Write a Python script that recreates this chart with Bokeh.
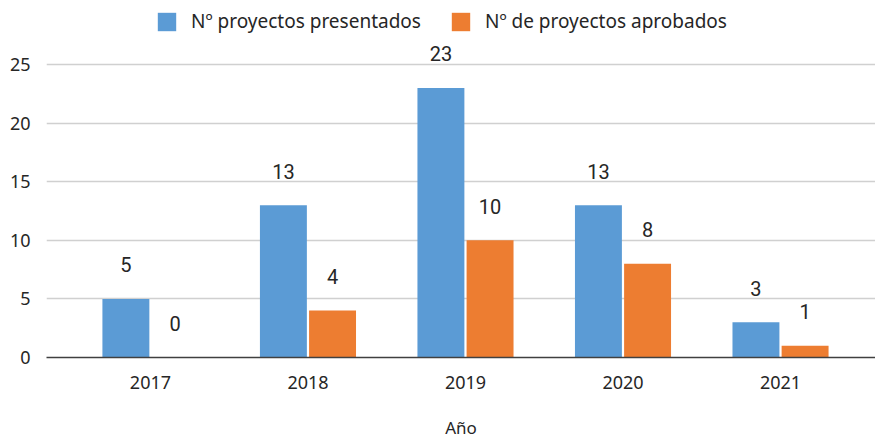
from bokeh.plotting import figure
from bokeh.models import ColumnDataSource, FixedTicker, Range1d, Legend, LegendItem
from bokeh.core.properties import value
from bokeh.embed import file_html
from bokeh.resources import INLINE

years = [2017, 2018, 2019, 2020, 2021]
presentados = [5, 13, 23, 13, 3]
aprobados = [0, 4, 10, 8, 1]
series_names = ["Nº proyectos presentados", "Nº de proyectos aprobados"]
colors = ["#5B9BD5", "#ED7D31"]
y_ticks = [0, 5, 10, 15, 20, 25]

off = 0.156
bw = 0.298
src_a = ColumnDataSource(dict(x=[y - off for y in years], top=presentados,
                              lab=[str(v) for v in presentados]))
src_b = ColumnDataSource(dict(x=[y + off for y in years], top=aprobados,
                              lab=[str(v) for v in aprobados]))

p = figure(width=875, height=441, output_backend="svg", toolbar_location=None,
           x_range=Range1d(2016.34, 2021.603), y_range=Range1d(0, 30.46),
           min_border_left=46, min_border_right=0, min_border_top=0,
           min_border_bottom=84)
p.outline_line_color = None
p.background_fill_color = "white"
p.border_fill_color = "white"

r1 = p.vbar(x="x", top="top", width=bw, source=src_a, fill_color=colors[0],
            line_color=None)
r2 = p.vbar(x="x", top="top", width=bw, source=src_b, fill_color=colors[1],
            line_color=None)

for src in (src_a, src_b):
    p.text(x="x", y="top", text="lab", source=src, text_align="center",
           text_baseline="middle", y_offset=-34, text_font=value("Roboto"),
           text_font_size="20px", text_color="#262626")

p.xaxis.ticker = FixedTicker(ticks=years)
p.yaxis.ticker = FixedTicker(ticks=y_ticks)
p.xaxis.axis_label = "Año"
p.xaxis.axis_label_text_font = "Noto Sans"
p.xaxis.axis_label_text_font_style = "normal"
p.xaxis.axis_label_text_font_size = "17px"
p.xaxis.axis_label_text_color = "#262626"
p.xaxis.axis_label_standoff = 24
for ax in (p.xaxis, p.yaxis):
    ax.major_tick_line_color = None
    ax.minor_tick_line_color = None
    ax.major_label_text_font = "Noto Sans"
    ax.major_label_text_font_size = "18px"
    ax.major_label_text_color = "#262626"
p.xaxis.axis_line_color = "#404040"
p.xaxis.axis_line_width = 1.5
p.xaxis.major_label_standoff = 12
p.yaxis.axis_line_color = None
p.yaxis.major_label_standoff = 10
p.xgrid.grid_line_color = None
p.ygrid.grid_line_color = "#d0d0d0"
p.ygrid.grid_line_width = 1.5

legend = Legend(items=[LegendItem(label=series_names[0], renderers=[r1]),
                       LegendItem(label=series_names[1], renderers=[r2])],
                orientation="horizontal", location=(109, 323),
                label_text_font="Noto Sans", label_text_font_size="19px",
                label_text_color="#262626", glyph_width=23, glyph_height=23,
                spacing=28, border_line_color=None, background_fill_alpha=0,
                padding=4, margin=0, label_standoff=13, label_height=23)
p.add_layout(legend)

open("out.html", "w").write(file_html(p, INLINE))
